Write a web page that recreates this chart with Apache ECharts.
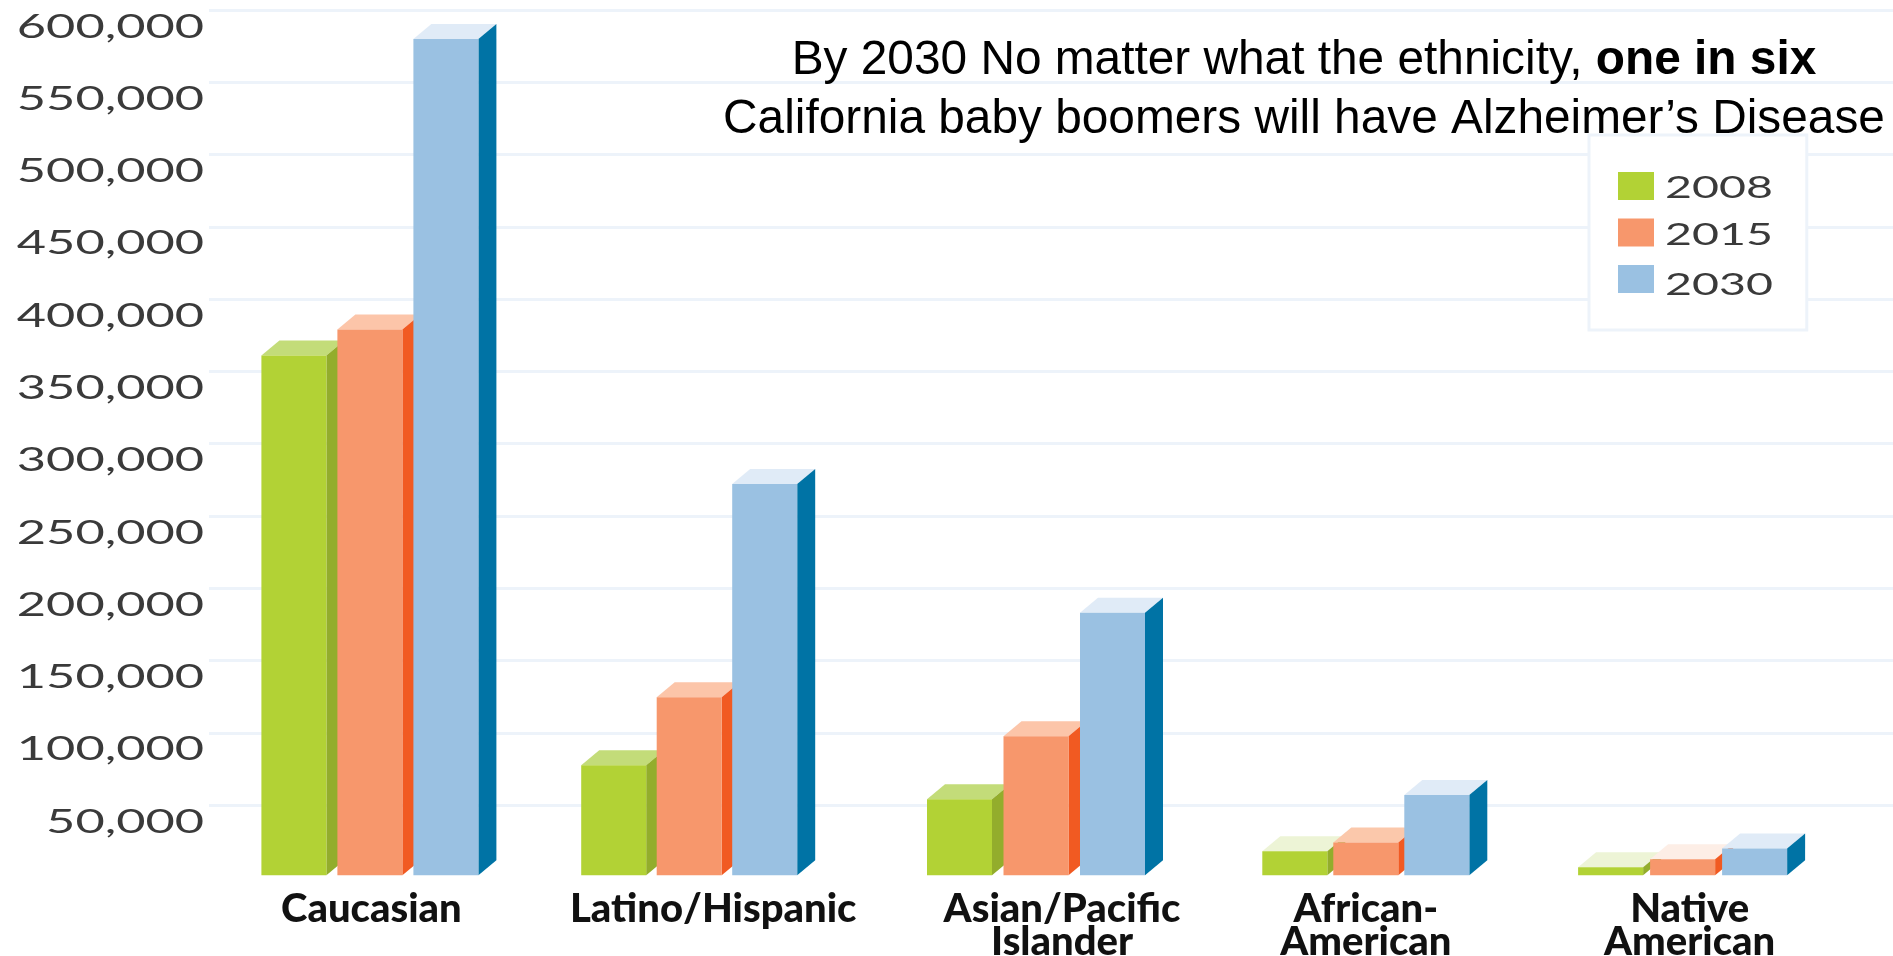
<!DOCTYPE html>
<html><head><meta charset="utf-8">
<style>html,body{margin:0;padding:0;background:#fff}#c{width:1893px;height:956px}</style>
<script src="https://cdn.jsdelivr.net/npm/echarts@6/dist/echarts.min.js"></script>
</head><body><div id="c"></div>
<script>
const categories = ['Caucasian','Latino/Hispanic','Asian/Pacific\nIslander','African-\nAmerican','Native\nAmerican'];
const years = ['2008','2015','2030'];
const values2008 = [361000,77500,54000,18000,7000];
const values2015 = [379000,124500,97500,24000,12500];
const values2030 = [580000,272000,183000,57000,20000];
const tickValues = [50000,100000,150000,200000,250000,300000,350000,400000,450000,500000,550000,600000];

// styling and layout, separate from the data
const FRONT = ['#b2d235','#f7976c','#9ac1e2'];
const SIDE  = ['#93ad2c','#f15a22','#0073a5'];
const TOP   = [
  ['#c3dc79','#c3dc79','#c3dc79','#edf4d6','#edf4d6'],
  ['#fcc5a9','#fcc5a9','#fcc5a9','#fbc8ab','#fdeee6'],
  ['#e0ebf7','#e0ebf7','#e0ebf7','#e0ebf7','#e0ebf7']
];
const groupNudge = [-7.5,-25,-15,-22,-42];
const groupStep  = [76,75.5,76.5,71,72];
const labelShift = [-6,-1,11,-22,-35];
const BAR_W = 65, DX = 18, DY = 15, BASE_LIFT = 2;
const TEXT_DARK = '#3a3a3a';
const LABEL_FONT = 'Lato';

function barRenderer(si){
  return function(params, api){
    const cat = api.value(0), v = api.value(1);
    const p = api.coord([cat, v]), b = api.coord([cat, 0]);
    const xl = p[0] + groupNudge[cat] + (si-1)*groupStep[cat] - BAR_W/2;
    const xr = xl + BAR_W, yt = p[1], yb = b[1] - BASE_LIFT;
    const poly = (pts, fill) => ({type:'polygon', shape:{points:pts}, style:{fill}});
    return {type:'group', children:[
      poly([[xl,yt],[xl+DX,yt-DY],[xr+DX,yt-DY],[xr,yt]], TOP[si][cat]),
      poly([[xr,yt],[xr+DX,yt-DY],[xr+DX,yb-DY],[xr,yb]], SIDE[si]),
      poly([[xl,yt],[xr,yt],[xr,yb],[xl,yb]], FRONT[si])
    ]};
  };
}
const seriesData = [values2008, values2015, values2030];
const barSeries = years.map((y,si)=>({
  name:y, type:'custom', renderItem:barRenderer(si), z:3+si,
  itemStyle:{color:FRONT[si]},
  encode:{x:0,y:1},
  data: seriesData[si].map((v,i)=>[i,v])
}));

const tickLabelSeries = {
  type:'custom', silent:true, z:2, clip:false,
  encode:{x:0,y:1},
  data: tickValues.map(v=>[0,v]),
  renderItem(params, api){
    const v = api.value(1), y = api.coord([0,v])[1];
    return {type:'text', x:204, y:y+17, scaleX:1.53, scaleY:1,
      style:{text:v.toLocaleString('en-US'), fontFamily:LABEL_FONT, fontSize:33,
             fill:TEXT_DARK, align:'right', verticalAlign:'middle'}};
  }
};

const legendYs = [188,235,285];
const chart = echarts.init(document.getElementById('c'), null, {renderer:'canvas'});
chart.setOption({
  animation:false,
  backgroundColor:'#fff',
  grid:{left:209, right:0, top:10, height:867.3, outerBoundsMode:'none'},
  title:{
    text:'{a|By 2030 No matter what the ethnicity, }{b|one in six}\n{a|California baby boomers will have Alzheimer’s Disease}',
    left:1299, top:26, textAlign:'center', z:10,
    textStyle:{fontWeight:'normal', rich:{
      a:{fontFamily:'Liberation Sans', fontSize:47.8, lineHeight:59, color:'#000', fontWeight:'normal'},
      b:{fontFamily:'Liberation Sans', fontSize:47.8, lineHeight:59, color:'#000', fontWeight:'bold'}
    }}
  },
  legend:{
    data:years, orient:'vertical', left:1589, top:135, z:8, selectedMode:false,
    icon:'rect', itemWidth:36, itemHeight:28, itemGap:18.5, align:'left',
    padding:[37,145,37,29], backgroundColor:'#fff', borderColor:'#edf3fa', borderWidth:3,
    formatter:()=>' ', textStyle:{fontSize:10}
  },
  graphic:years.map((y,i)=>({
    type:'text', x:1665, y:legendYs[i], scaleX:1.55, z:20,
    style:{text:y, fontFamily:LABEL_FONT, fontSize:30, fill:TEXT_DARK, align:'left', verticalAlign:'middle'}
  })),
  xAxis:{
    type:'category',
    data:categories.map((c,i)=>{
      const s = labelShift[i];
      return {value:c, textStyle:{padding: s>=0 ? [0,0,0,2*s] : [0,-2*s,0,0]}};
    }),
    axisLine:{show:false}, axisTick:{show:false},
    axisLabel:{interval:0, margin:15, hideOverlap:false, fontFamily:LABEL_FONT, fontWeight:900,
               fontSize:40, lineHeight:33, color:'#111', verticalAlign:'top', align:'center'},
    splitLine:{show:false}
  },
  yAxis:{
    type:'value', min:0, max:600000, interval:50000,
    axisLine:{show:false}, axisTick:{show:false}, axisLabel:{show:false},
    splitLine:{show:true, showMinLine:false, lineStyle:{color:'#edf3fa', width:3}}
  },
  series:[tickLabelSeries, ...barSeries]
});
</script></body></html>
